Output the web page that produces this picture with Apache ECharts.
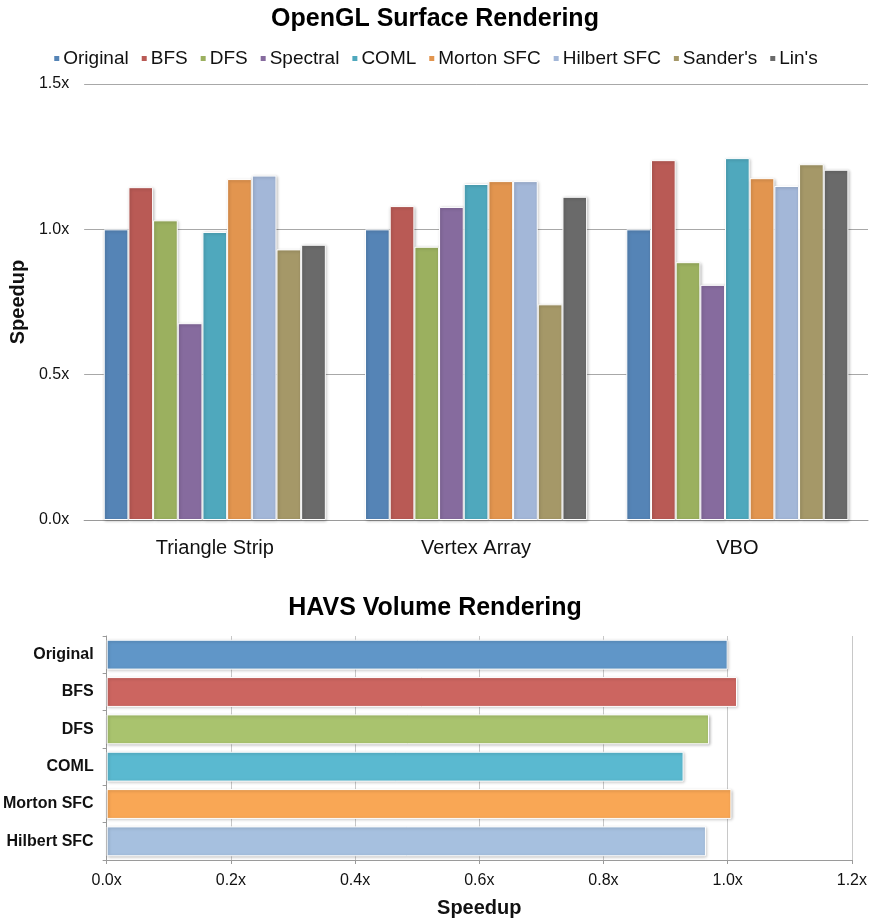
<!DOCTYPE html>
<html>
<head>
<meta charset="utf-8">
<script src="https://cdn.jsdelivr.net/npm/echarts@6/dist/echarts.min.js"></script>
<style>
  html, body { margin: 0; padding: 0; background: #ffffff; overflow: hidden; }
  #chart { width: 870px; height: 922px; }
</style>
</head>
<body>
<div id="chart"></div>
<script>
// OpenGL surface rendering: speedup per layout method, grouped by draw mode
const renderModes = ['Triangle Strip', 'Vertex Array', 'VBO'];
const layoutNames = ['Original', 'BFS', 'DFS', 'Spectral', 'COML', 'Morton SFC', 'Hilbert SFC', "Sander's", "Lin's"];
const original   = [1.000, 1.000, 1.000];
const bfs        = [1.145, 1.080, 1.238];
const dfs        = [1.031, 0.940, 0.887];
const spectral   = [0.677, 1.077, 0.809];
const coml       = [0.991, 1.156, 1.245];
const mortonSfc  = [1.173, 1.166, 1.176];
const hilbertSfc = [1.185, 1.166, 1.149];
const sanders    = [0.931, 0.742, 1.224];
const lins       = [0.947, 1.112, 1.205];
const surfaceSeries = [original, bfs, dfs, spectral, coml, mortonSfc, hilbertSfc, sanders, lins];
const surfaceColors = ['#5584b6', '#b95a55', '#9bb05f', '#866b9e', '#4fa8bd', '#e2954f', '#a3b7d8', '#a59868', '#6a6a6a'];
const speedupTicks = ['0.0x', '0.5x', '1.0x', '1.5x'];

// HAVS volume rendering: speedup per layout method
const volumeLayouts = ['Original', 'BFS', 'DFS', 'COML', 'Morton SFC', 'Hilbert SFC'];
const volumeSpeedup = [1.000, 1.015, 0.970, 0.929, 1.006, 0.965];
const volumeColors = ['#6096c8', '#cc6560', '#a9c36e', '#5ab9d0', '#f9a755', '#a6c0df'];

const FONT = 'Liberation Sans, Arial, sans-serif';
const barStyleBase = {
  borderColor: '#ffffff',
  borderWidth: 1,
  shadowBlur: 3,
  shadowOffsetX: 1,
  shadowOffsetY: 1,
  shadowColor: 'rgba(0,0,0,0.25)'
};

const chart = echarts.init(document.getElementById('chart'), null, { renderer: 'canvas' });

const series = surfaceSeries.map((vals, i) => ({
  name: layoutNames[i],
  type: 'bar',
  xAxisIndex: 0,
  yAxisIndex: 0,
  data: vals,
  barGap: '0%',
  barCategoryGap: '15%',
  itemStyle: Object.assign({ color: surfaceColors[i] }, barStyleBase)
}));

series.push({
  name: 'HAVS',
  type: 'bar',
  xAxisIndex: 1,
  yAxisIndex: 1,
  barCategoryGap: '20%',
  data: volumeSpeedup.map((v, i) => ({
    value: v,
    itemStyle: Object.assign({ color: volumeColors[i] }, barStyleBase)
  }))
});

chart.setOption({
  animation: false,
  backgroundColor: '#ffffff',
  textStyle: { fontFamily: FONT },
  title: [
    {
      text: 'OpenGL Surface Rendering',
      left: 'center',
      top: 2,
      textStyle: { fontFamily: FONT, fontSize: 25, fontWeight: 'bold', color: '#000' }
    },
    {
      text: 'HAVS Volume Rendering',
      left: 'center',
      top: 591,
      textStyle: { fontFamily: FONT, fontSize: 25, fontWeight: 'bold', color: '#000' }
    }
  ],
  legend: {
    data: layoutNames,
    top: 44,
    left: 'center',
    itemWidth: 7,
    itemHeight: 7,
    itemGap: 11,
    icon: 'rect',
    textStyle: { fontFamily: FONT, fontSize: 19, color: '#111', padding: [0, 0, 0, -2] }
  },
  grid: [
    { left: 80, right: 2, top: 84, height: 436 },
    { left: 105, right: 16, top: 636, height: 224 }
  ],
  xAxis: [
    {
      type: 'category',
      gridIndex: 0,
      data: renderModes,
      axisLine: { lineStyle: { color: '#9a9a9a', width: 1 } },
      axisTick: { length: 5, lineStyle: { color: '#9a9a9a' } },
      axisLabel: { fontFamily: FONT, fontSize: 20, color: '#111', margin: 18 }
    },
    {
      type: 'value',
      gridIndex: 1,
      min: 0,
      max: 1.2,
      interval: 0.2,
      name: 'Speedup',
      nameLocation: 'middle',
      nameGap: 38,
      nameTextStyle: { fontFamily: FONT, fontSize: 20, fontWeight: 'bold', color: '#111' },
      axisLine: { show: true, lineStyle: { color: '#9a9a9a' } },
      axisTick: { show: true, length: 4, lineStyle: { color: '#9a9a9a' } },
      splitLine: { show: true, lineStyle: { color: '#c8c8c8', width: 1 } },
      axisLabel: {
        fontFamily: FONT, fontSize: 16, color: '#111', margin: 13,
        formatter: v => v.toFixed(1) + 'x'
      }
    }
  ],
  yAxis: [
    {
      type: 'value',
      gridIndex: 0,
      min: 0,
      max: 1.5,
      interval: 0.5,
      name: 'Speedup',
      nameLocation: 'middle',
      nameGap: 52,
      nameTextStyle: { fontFamily: FONT, fontSize: 20, fontWeight: 'bold', color: '#111' },
      axisLine: { show: false },
      axisTick: { show: false },
      splitLine: { lineStyle: { color: '#a8a8a8', width: 1 } },
      axisLabel: {
        fontFamily: FONT, fontSize: 16, color: '#111', margin: 15,
        formatter: v => speedupTicks[Math.round(v / 0.5)]
      }
    },
    {
      type: 'category',
      gridIndex: 1,
      data: volumeLayouts,
      inverse: true,
      axisLine: { show: true, lineStyle: { color: '#9a9a9a' } },
      axisTick: { show: true, length: 4, lineStyle: { color: '#9a9a9a' } },
      axisLabel: { fontFamily: FONT, fontSize: 16, fontWeight: 'bold', color: '#111', margin: 13 }
    }
  ],
  series: series
});
</script>
</body>
</html>
